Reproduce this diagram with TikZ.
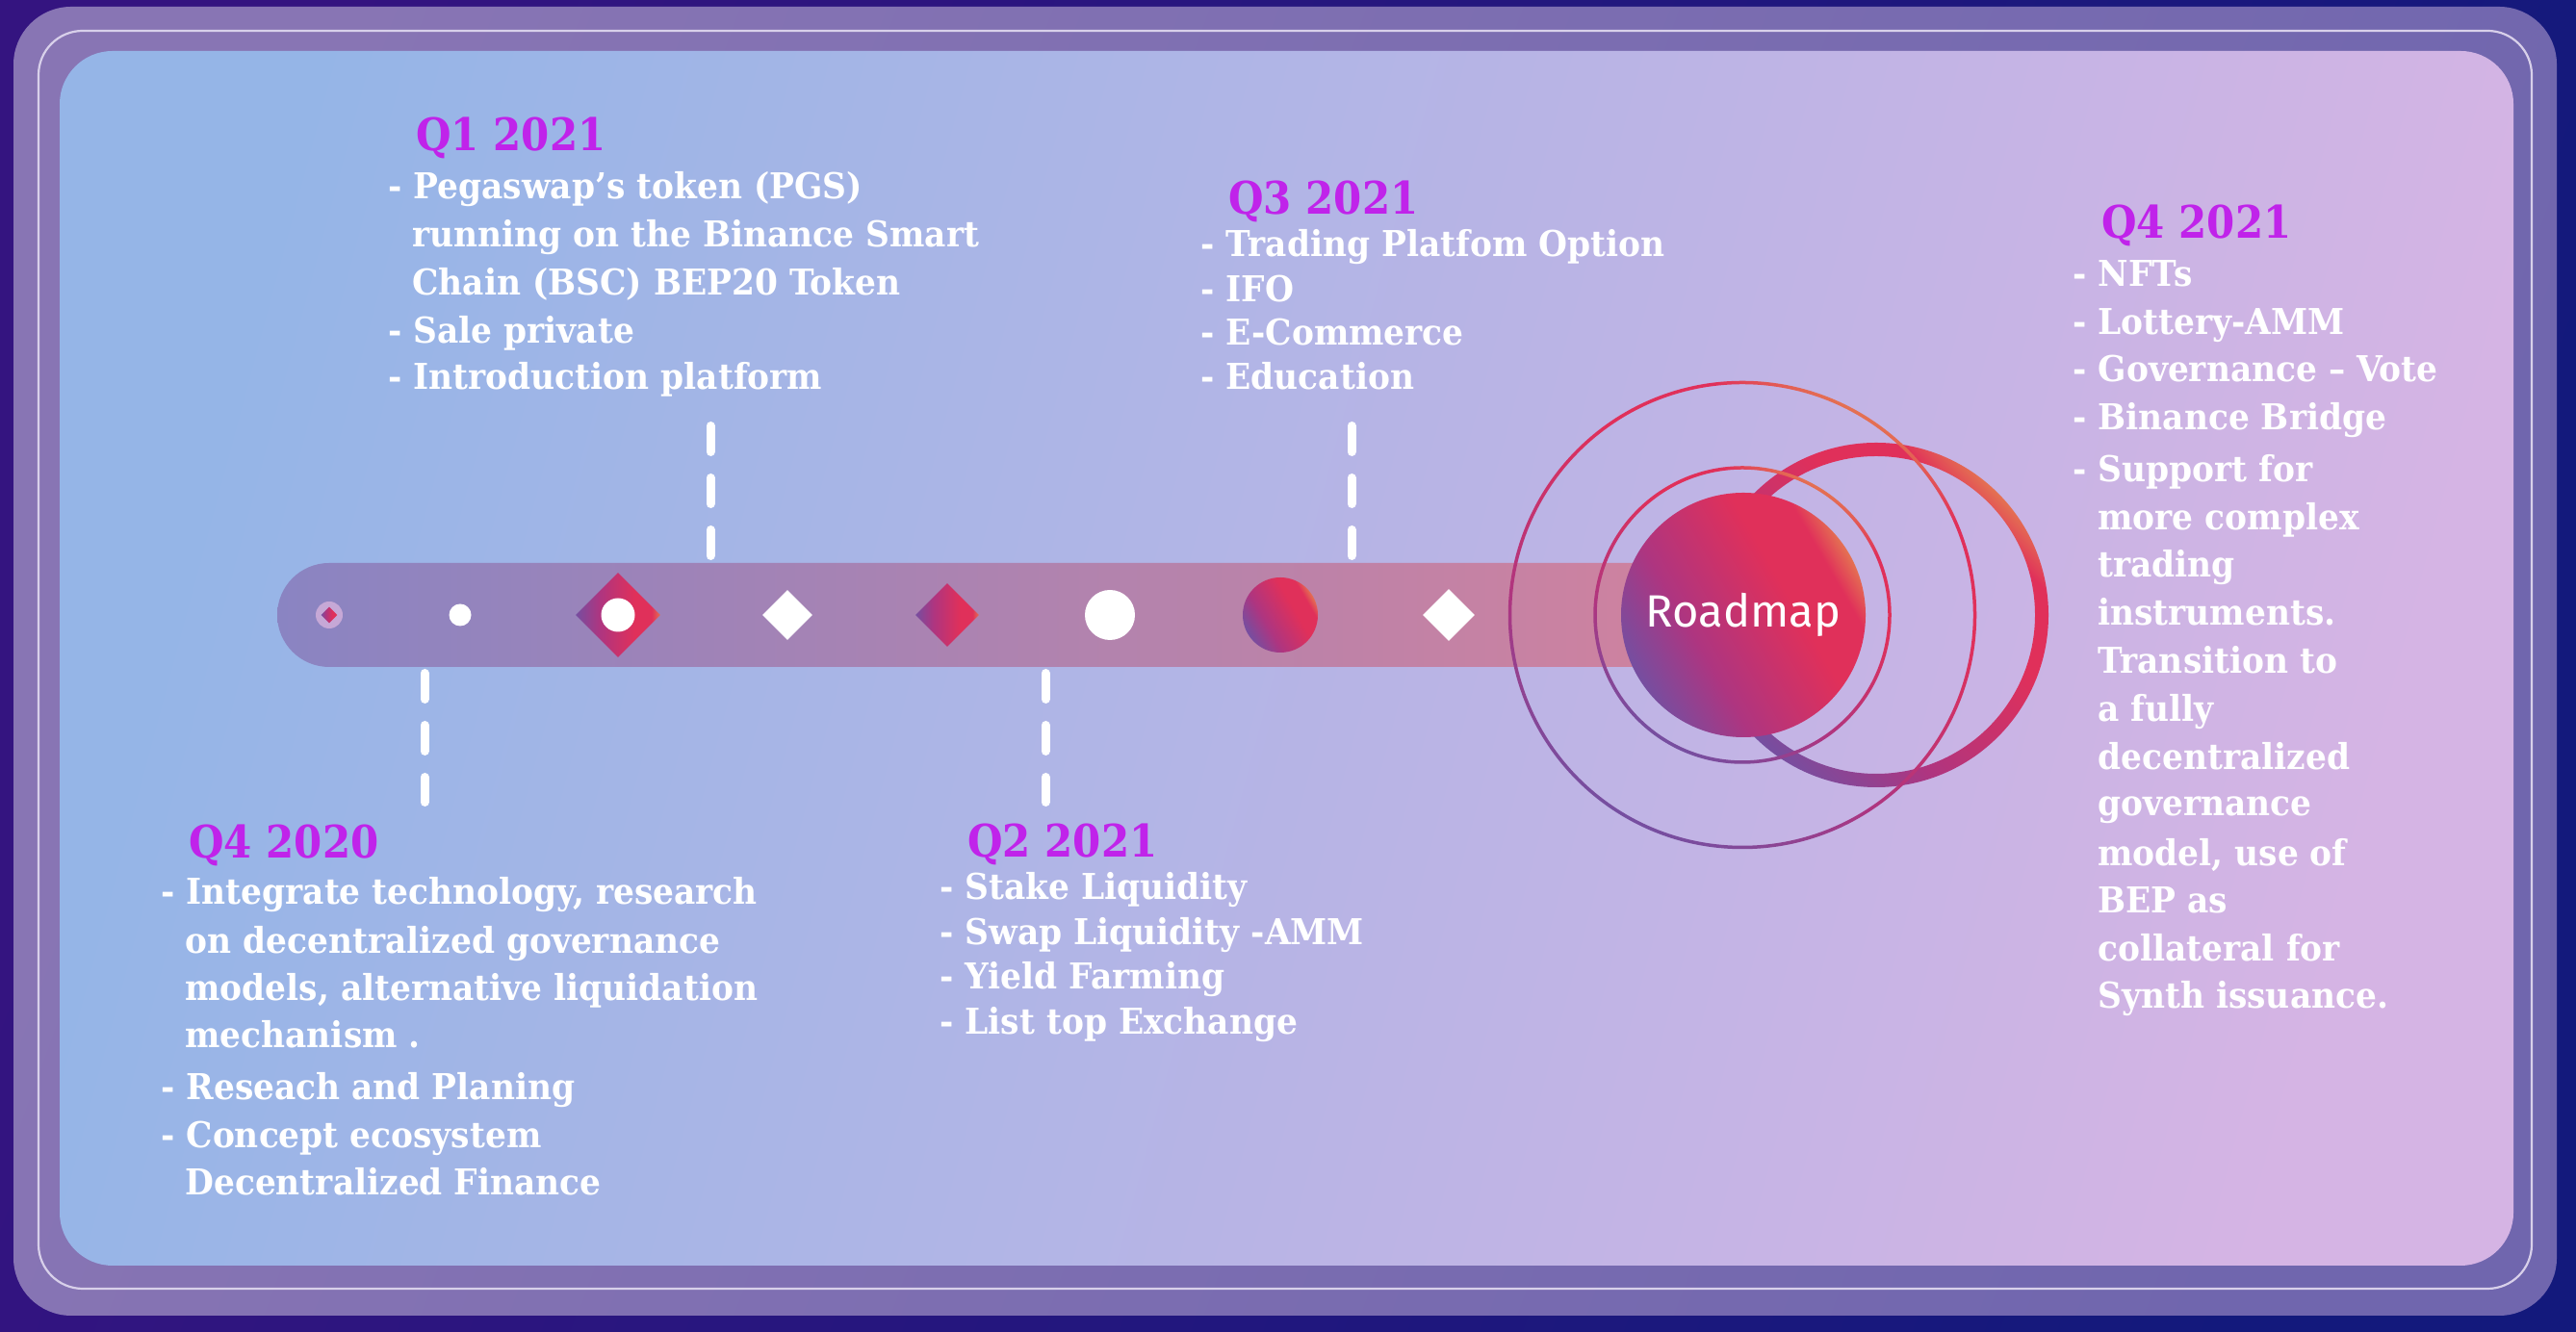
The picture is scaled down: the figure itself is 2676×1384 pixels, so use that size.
\documentclass[tikz,border=0pt]{standalone}
\usepackage{fontspec}
\usetikzlibrary{shapes.geometric}
\newfontfamily\titlefont{DejaVu Serif}[FakeStretch=0.9]
\newfontfamily\bodyfont{DejaVu Serif}[FakeStretch=0.93]
\newfontfamily\roadfont{Fira Sans}

\definecolor{bgA}{HTML}{341480}
\definecolor{bgB}{HTML}{13197C}
\definecolor{bandA}{HTML}{8875B4}
\definecolor{bandB}{HTML}{7066AE}
\definecolor{hair}{HTML}{D8D0EA}
\definecolor{panA}{HTML}{95B5E7}
\definecolor{panM}{HTML}{B3B4E6}
\definecolor{panB}{HTML}{D5B4E4}
\definecolor{barA}{HTML}{8A84C2}
\definecolor{barM}{HTML}{AD7AB1}
\definecolor{barB}{HTML}{CD82A0}
\definecolor{ringc}{HTML}{C6A8D6}
\definecolor{gpurple}{HTML}{764EA0}
\definecolor{gmag}{HTML}{AE3580}
\definecolor{gred}{HTML}{E0305A}
\definecolor{gorange}{HTML}{E47052}
\definecolor{titlec}{HTML}{C023EA}

% purple -> magenta -> red -> orange glow used by gems, orbs and rings
\pgfdeclarehorizontalshading{glow}{100bp}{color(0bp)=(gpurple); color(25bp)=(gpurple); color(39bp)=(gmag); color(60bp)=(gred); color(70bp)=(gred); color(75bp)=(gorange); color(100bp)=(gorange)}

\begin{document}
\begin{tikzpicture}[x=0.5pt,y=0.5pt,
  dot/.style={circle, fill=white, inner sep=0},
  gem/.style={diamond, aspect=1, inner sep=0, shade, shading=glow, shading angle=0},
  whitegem/.style={diamond, aspect=1, inner sep=0, fill=white},
  orb/.style={circle, inner sep=0, shade, shading=glow, shading angle=30},
  dashline/.style={draw=white, line width=4.5pt, line cap=round, dash pattern=on 13.5pt off 13.5pt},
  ttl/.style={anchor=base west, inner sep=0, text=titlec, font=\titlefont\bfseries\fontsize{23.3pt}{28pt}\selectfont},
  txt/.style={anchor=base west, inner sep=0, text=white, font=\bodyfont\bfseries\fontsize{18.5pt}{22pt}\selectfont}]
\useasboundingbox (0,0) rectangle (2676,1384);

% frame: dark ground, violet band, hairline, gradient panel
\shade[left color=bgA, right color=bgB, shading angle=70] (0,0) rectangle (2676,1384);
\shade[left color=bandA, right color=bandB, shading angle=70, rounded corners=30pt] (14,17) rectangle (2656,1377);
\draw[hair, line width=1.1pt, rounded corners=23pt] (40,45) rectangle (2630,1352);
\shade[left color=panA, middle color=panM, right color=panB, shading angle=75, rounded corners=27.5pt] (62,69) rectangle (2611,1331);

% timeline bar
\shade[left color=barA, middle color=barM, right color=barB] (1700,691) -- (342,691) arc[start angle=270, end angle=90, radius=54] -- (1700,799) -- cycle;

% dashed leaders
\coordinate (q1a) at (738,941.5);  \coordinate (q1b) at (738,806.5);
\coordinate (q3a) at (1404,941.5); \coordinate (q3b) at (1404,806.5);
\coordinate (q0a) at (441,684.5);  \coordinate (q0b) at (441,550.5);
\coordinate (q2a) at (1086,684.5); \coordinate (q2b) at (1086,550.5);
\draw[dashline] (q1a) -- (q1b);
\draw[dashline] (q3a) -- (q3b);
\draw[dashline] (q0a) -- (q0b);
\draw[dashline] (q2a) -- (q2b);

% markers along the bar
\node[circle, fill=ringc, inner sep=0, minimum size=14pt] (m1) at (342,745) {};
\node[gem, minimum size=8.5pt] (m1c) at (m1) {};
\node[dot, minimum size=11.5pt] (m2) at (478,745) {};
\node[gem, minimum size=44pt] (m3) at (642,745) {};
\node[dot, minimum size=17.5pt] (m3c) at (m3) {};
\node[whitegem, minimum size=26pt] (m4) at (818,745) {};
\node[gem, minimum size=33pt] (m5) at (984,745) {};
\node[dot, minimum size=26pt] (m6) at (1153,745) {};
\node[orb, minimum size=39pt] (m7) at (1330,745) {};
\node[whitegem, minimum size=27pt] (m8) at (1505,745) {};

% rings around the roadmap badge
\shade[shading=glow, shading angle=45, even odd rule] (1949,745) circle[radius=179] (1949,745) circle[radius=165];
\shade[shading=glow, shading angle=60, even odd rule] (1810,745) circle[radius=154.75] (1810,745) circle[radius=151.25];
\shade[shading=glow, shading angle=60, even odd rule] (1810,745) circle[radius=243.25] (1810,745) circle[radius=239.75];
\node[orb, minimum size=127pt, text=white, font=\roadfont\fontsize{23.5pt}{27pt}\selectfont] (road) at (1811,745) {Roadmap};

% Q4 2020
\node[ttl] (t0) at (196,492) {Q4 2020};
\node[txt] (t0a) at (167,444) {- Integrate technology, research};
\node[txt] (t0b) at (192,393) {on decentralized governance};
\node[txt] (t0c) at (192,344) {models, alternative liquidation};
\node[txt] (t0d) at (192,295) {mechanism .};
\node[txt] (t0e) at (167,241) {- Reseach and Planing};
\node[txt] (t0f) at (167,191) {- Concept ecosystem};
\node[txt] (t0g) at (192,142) {Decentralized Finance};

% Q1 2021
\node[ttl] (t1) at (432,1227) {Q1 2021};
\node[txt] (t1a) at (403,1177) {- Pegaswap’s token (PGS)};
\node[txt] (t1b) at (428,1127) {running on the Binance Smart};
\node[txt] (t1c) at (428,1077) {Chain (BSC) BEP20 Token};
\node[txt] (t1d) at (403,1027) {- Sale private};
\node[txt] (t1e) at (403,979) {- Introduction platform};

% Q2 2021
\node[ttl] (t2) at (1005,493) {Q2 2021};
\node[txt] (t2a) at (976,449) {- Stake Liquidity};
\node[txt] (t2b) at (976,402) {- Swap Liquidity -AMM};
\node[txt] (t2c) at (976,356) {- Yield Farming};
\node[txt] (t2d) at (976,309) {- List top Exchange};

% Q3 2021
\node[ttl] (t3) at (1276,1161) {Q3 2021};
\node[txt] (t3a) at (1247,1117) {- Trading Platfom Option};
\node[txt] (t3b) at (1247,1070) {- IFO};
\node[txt] (t3c) at (1247,1025) {- E-Commerce};
\node[txt] (t3d) at (1247,979) {- Education};

% Q4 2021
\node[ttl] (t4) at (2183,1136) {Q4 2021};
\node[txt] (t4a) at (2153,1086) {- NFTs};
\node[txt] (t4b) at (2153,1036) {- Lottery-AMM};
\node[txt] (t4c) at (2153,987) {- Governance – Vote};
\node[txt] (t4d) at (2153,937) {- Binance Bridge};
\node[txt] (t4e) at (2153,883) {- Support for};
\node[txt] (t4f) at (2179,833) {more complex};
\node[txt] (t4g) at (2179,784) {trading};
\node[txt] (t4h) at (2179,734) {instruments.};
\node[txt] (t4i) at (2179,684) {Transition to};
\node[txt] (t4j) at (2179,634) {a fully};
\node[txt] (t4k) at (2179,584) {decentralized};
\node[txt] (t4l) at (2179,536) {governance};
\node[txt] (t4m) at (2179,484) {model, use of};
\node[txt] (t4n) at (2179,435) {BEP as};
\node[txt] (t4o) at (2179,385) {collateral for};
\node[txt] (t4p) at (2179,336) {Synth issuance.};
\end{tikzpicture}
\end{document}
